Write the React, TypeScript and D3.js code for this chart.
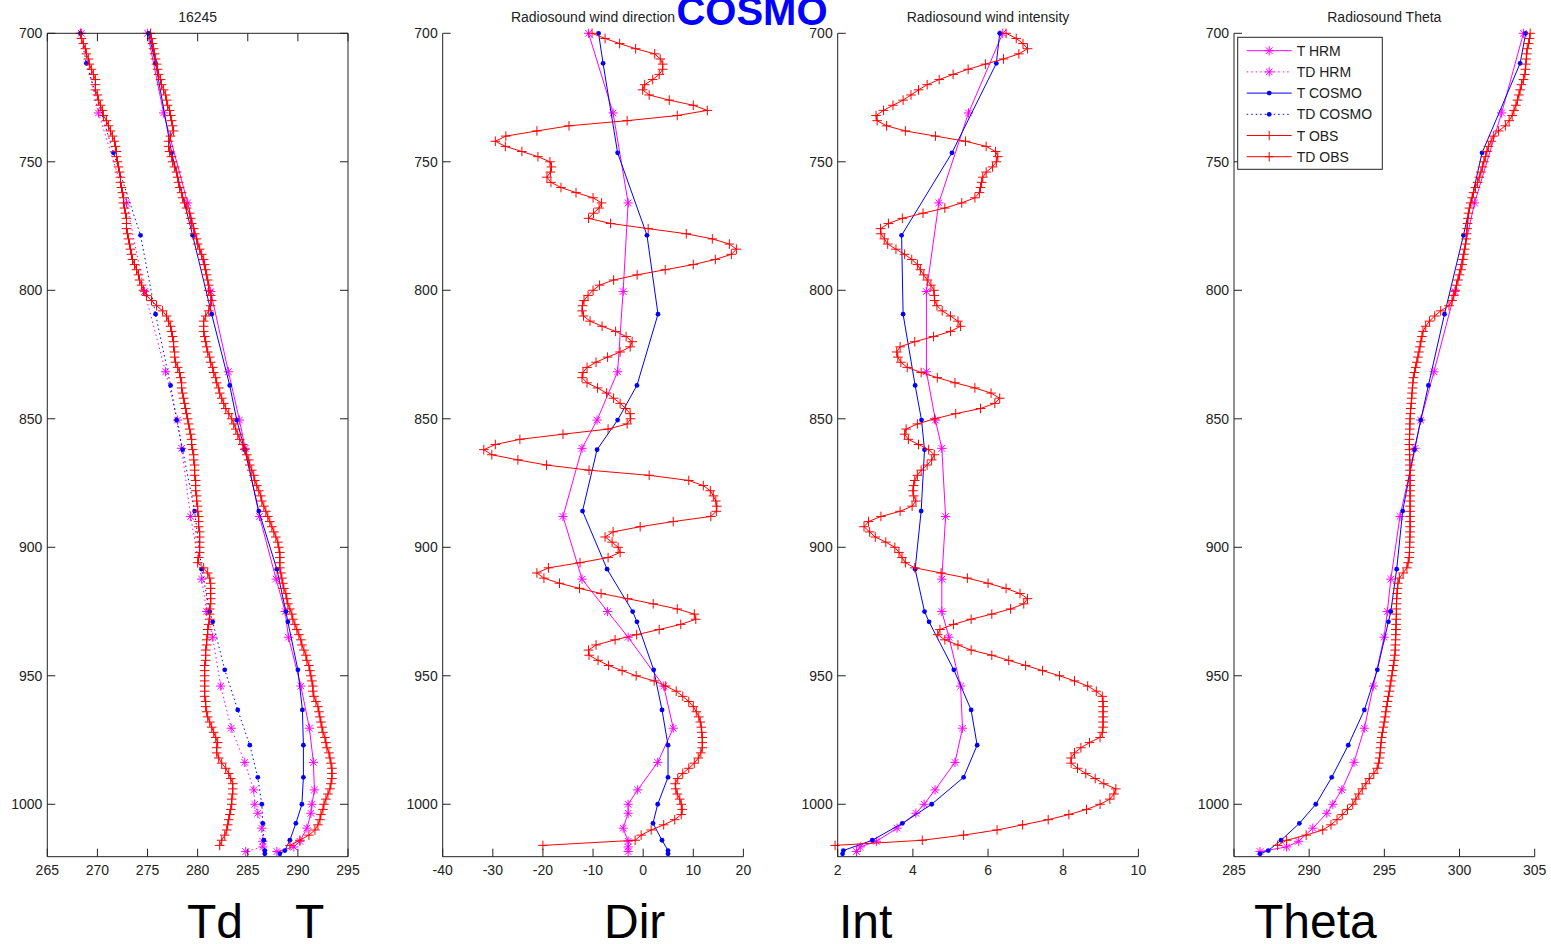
import React from 'react';
import * as d3 from 'd3';

// ---------- pressure levels ----------
const OBS_P = [
  700, 702, 704, 706, 708, 710, 712, 714, 716, 718,
  720, 722, 724, 726, 728, 730, 732, 734, 736, 738,
  740, 742, 744, 746, 748, 750, 752, 754, 756, 758,
  760, 762, 764, 766, 768, 770, 772, 774, 776, 778,
  780, 782, 784, 786, 788, 790, 792, 794, 796, 798,
  800, 802, 804, 806, 808, 810, 812, 814, 816, 818,
  820, 822, 824, 826, 828, 830, 832, 834, 836, 838,
  840, 842, 844, 846, 848, 850, 852, 854, 856, 858,
  860, 862, 864, 866, 868, 870, 872, 874, 876, 878,
  880, 882, 884, 886, 888, 890, 892, 894, 896, 898,
  900, 902, 904, 906, 908, 910, 912, 914, 916, 918,
  920, 922, 924, 926, 928, 930, 932, 934, 936, 938,
  940, 942, 944, 946, 948, 950, 952, 954, 956, 958,
  960, 962, 964, 966, 968, 970, 972, 974, 976, 978,
  980, 982, 984, 986, 988, 990, 992, 994, 996, 998,
  1000, 1002, 1004, 1006, 1008, 1010, 1012, 1014, 1016,
];

const HRM_P = [700, 731, 766, 800.5, 831.7, 850.5, 861.5, 888, 912.4, 925, 935, 954, 970.4, 983.7, 994.4, 1000, 1003.5, 1009.3, 1014.4, 1016.6, 1018.4];
const COSMO_P = [700, 711.7, 746.5, 778.6, 809.3, 837, 850.5, 862, 885.9, 908.5, 925, 929, 947.7, 963.3, 977, 989.5, 1000, 1007.4, 1014, 1018, 1019.3];

// ---------- observations ----------
const OBS_T = [
  275.3, 275.4, 275.5, 275.6, 275.7, 275.8, 275.9, 276.0, 276.1, 276.3,
  276.4, 276.6, 276.8, 276.9, 277.0, 277.2, 277.3, 277.4, 277.5, 277.6,
  277.3, 277.1, 277.1, 277.2, 277.4, 277.5, 277.7, 277.9, 278.0, 278.1,
  278.2, 278.4, 278.5, 278.7, 278.9, 279.2, 279.3, 279.4, 279.6, 279.7,
  279.9, 280.0, 280.2, 280.4, 280.6, 280.7, 280.8, 280.9, 281.0, 281.1,
  281.1, 281.3, 281.4, 281.3, 281.1, 280.8, 280.6, 280.6, 280.6, 280.7,
  280.8, 280.9, 281.0, 281.2, 281.3, 281.5, 281.6, 281.8, 281.9, 282.1,
  282.2, 282.4, 282.6, 282.8, 283.1, 283.4, 283.6, 283.8, 284.0, 284.2,
  284.5, 284.7, 284.9, 285.1, 285.2, 285.4, 285.6, 285.7, 285.9, 286.1,
  286.3, 286.4, 286.6, 286.8, 287.0, 287.2, 287.4, 287.6, 287.8, 288.0,
  288.1, 288.2, 288.2, 288.2, 288.2, 288.3, 288.4, 288.5, 288.6, 288.8,
  288.9, 289.0, 289.2, 289.4, 289.5, 289.7, 289.9, 290.1, 290.3, 290.4,
  290.6, 290.8, 290.9, 291.1, 291.2, 291.3, 291.4, 291.5, 291.5, 291.6,
  291.8, 292.0, 292.1, 292.2, 292.3, 292.4, 292.5, 292.7, 292.8, 292.9,
  293.1, 293.2, 293.3, 293.4, 293.4, 293.4, 293.3, 293.2, 293.0, 292.8,
  292.6, 292.5, 292.3, 292.2, 292.0, 291.7, 291.1, 290.2, 289.2,
];

const OBS_TD = [
  268.3, 268.4, 268.6, 268.8, 268.9, 269.1, 269.2, 269.4, 269.6, 269.8,
  269.8, 269.8, 270.0, 270.1, 270.3, 270.5, 270.6, 270.9, 271.1, 271.3,
  271.5, 271.7, 271.8, 271.9, 271.9, 272.0, 272.1, 272.2, 272.3, 272.3,
  272.4, 272.5, 272.6, 272.6, 272.7, 272.8, 272.9, 272.9, 272.9, 273.0,
  273.1, 273.2, 273.3, 273.4, 273.5, 273.7, 273.9, 274.1, 274.2, 274.4,
  274.6, 274.9, 275.4, 275.9, 276.5, 276.9, 277.1, 277.3, 277.4, 277.5,
  277.6, 277.6, 277.7, 277.7, 277.8, 278.0, 278.2, 278.3, 278.4, 278.4,
  278.5, 278.6, 278.7, 278.8, 278.9, 279.0, 279.1, 279.2, 279.3, 279.4,
  279.4, 279.5, 279.6, 279.6, 279.7, 279.7, 279.7, 279.8, 279.8, 279.8,
  279.9, 279.9, 280.0, 280.0, 280.1, 280.1, 280.1, 280.2, 280.2, 280.2,
  280.2, 280.2, 280.1, 280.0, 280.6, 281.0, 281.2, 281.3, 281.3, 281.3,
  281.3, 281.3, 281.2, 281.2, 281.2, 281.1, 281.0, 281.0, 280.9, 280.9,
  280.8, 280.8, 280.8, 280.7, 280.7, 280.7, 280.7, 280.7, 280.7, 280.7,
  280.8, 280.8, 280.9, 281.0, 281.2, 281.4, 281.6, 281.8, 282.0, 281.9,
  281.9, 282.1, 282.4, 282.8, 283.1, 283.3, 283.5, 283.5, 283.5, 283.4,
  283.4, 283.3, 283.2, 283.1, 283.0, 282.9, 282.7, 282.4, 282.2,
];

const OBS_DIR = [
  -10.2, -7.6, -4.7, -1.5, 2.3, 3.4, 3.9, 3.9, 3.2, 1.9,
  0.3, -0.1, 1.2, 5.2, 10.0, 12.8, 6.8, -3.2, -14.8, -21.2,
  -27.4, -29.5, -27.5, -24.2, -21.0, -18.6, -18.3, -18.5, -19.2, -18.4,
  -16.4, -13.4, -10.0, -8.3, -8.8, -9.9, -10.9, -6.5, 1.0, 8.6,
  13.8, 17.2, 18.6, 17.6, 14.4, 10.0, 4.4, -1.2, -5.9, -8.7,
  -10.0, -11.0, -11.8, -12.1, -12.2, -11.9, -10.6, -8.2, -5.5, -3.4,
  -2.2, -2.6, -4.6, -7.1, -9.4, -11.2, -12.0, -12.2, -11.2, -9.1,
  -7.3, -5.9, -4.6, -3.5, -2.6, -2.5, -3.2, -7.0, -16.0, -24.6,
  -29.5, -31.8, -30.2, -25.0, -19.3, -10.8, 1.2, 9.1, 12.0, 13.4,
  14.0, 14.5, 14.7, 14.6, 13.5, 6.0, -0.6, -6.0, -7.6, -6.2,
  -5.0, -4.6, -7.0, -12.6, -18.9, -21.2, -19.8, -16.7, -12.7, -8.4,
  -3.1, 2.0, 6.8, 10.2, 10.5, 7.5, 3.2, -1.3, -5.6, -9.4,
  -10.9, -10.8, -9.0, -6.9, -4.2, -1.4, 2.2, 4.5, 6.6, 7.9,
  9.1, 10.0, 10.6, 11.1, 11.4, 11.6, 11.7, 11.8, 11.8, 11.8,
  11.5, 11.0, 10.2, 9.1, 7.9, 6.9, 6.4, 6.5, 6.8, 7.3,
  7.6, 7.8, 7.6, 6.3, 4.1, 1.6, -0.4, -1.6, -20.0,
];

const OBS_INT = [
  6.48, 6.75, 6.93, 7.05, 6.82, 6.41, 5.93, 5.47, 5.07, 4.70,
  4.38, 4.15, 3.95, 3.74, 3.47, 3.22, 3.02, 3.05, 3.30, 3.80,
  4.60, 5.40, 5.95, 6.20, 6.26, 6.22, 6.12, 5.95, 5.86, 5.83,
  5.80, 5.77, 5.65, 5.30, 4.85, 4.27, 3.72, 3.35, 3.14, 3.15,
  3.24, 3.33, 3.55, 3.78, 3.97, 4.12, 4.20, 4.29, 4.38, 4.48,
  4.56, 4.57, 4.58, 4.64, 4.78, 5.00, 5.20, 5.27, 5.00, 4.55,
  4.05, 3.66, 3.57, 3.60, 3.68, 3.85, 4.22, 4.65, 5.12, 5.65,
  6.08, 6.31, 6.18, 5.80, 5.14, 4.58, 4.12, 3.82, 3.78, 3.88,
  4.15, 4.42, 4.57, 4.50, 4.38, 4.22, 4.12, 4.05, 4.02, 4.00,
  4.02, 4.08, 3.98, 3.66, 3.15, 2.82, 2.70, 2.85, 3.00, 3.28,
  3.52, 3.63, 3.71, 3.80, 4.05, 4.75, 5.45, 6.00, 6.48, 6.85,
  7.05, 6.95, 6.60, 6.10, 5.55, 5.08, 4.72, 4.66, 4.85, 5.20,
  5.55, 6.10, 6.55, 7.00, 7.45, 7.90, 8.30, 8.65, 8.88, 9.04,
  9.06, 9.06, 9.06, 9.06, 9.06, 9.06, 9.04, 8.98, 8.70, 8.47,
  8.30, 8.21, 8.21, 8.38, 8.60, 8.85, 9.08, 9.40, 9.35, 9.24,
  8.98, 8.62, 8.15, 7.60, 6.92, 6.24, 5.35, 4.25, 1.93,
];

const OBS_THETA = [
  304.7, 304.65, 304.6, 304.5, 304.47, 304.44, 304.41, 304.38, 304.35, 304.25,
  304.12, 304.03, 303.95, 303.85, 303.75, 303.62, 303.5, 303.3, 303.05, 302.6,
  302.25, 302.1, 301.92, 301.82, 301.72, 301.62, 301.52, 301.42, 301.31, 301.2,
  301.06, 300.93, 300.84, 300.75, 300.66, 300.59, 300.56, 300.53, 300.5, 300.47,
  300.44, 300.4, 300.35, 300.29, 300.23, 300.17, 300.1, 300.0, 299.9, 299.8,
  299.72, 299.62, 299.5, 299.3, 298.75, 298.35, 298.0, 297.75, 297.57, 297.5,
  297.43, 297.37, 297.3, 297.23, 297.16, 297.08, 297.0, 296.93, 296.9, 296.87,
  296.84, 296.82, 296.79, 296.76, 296.73, 296.71, 296.7, 296.69, 296.68, 296.67,
  296.66, 296.67, 296.68, 296.69, 296.7, 296.71, 296.71, 296.71, 296.71, 296.71,
  296.71, 296.71, 296.71, 296.71, 296.71, 296.71, 296.71, 296.71, 296.7, 296.69,
  296.68, 296.67, 296.65, 296.58, 296.5, 296.25, 296.0, 295.9, 295.87, 295.84,
  295.82, 295.81, 295.8, 295.8, 295.79, 295.78, 295.77, 295.76, 295.75, 295.73,
  295.72, 295.7, 295.65, 295.6, 295.55, 295.5, 295.44, 295.38, 295.33, 295.27,
  295.21, 295.16, 295.1, 295.05, 294.99, 294.93, 294.87, 294.82, 294.78, 294.75,
  294.72, 294.68, 294.62, 294.52, 294.3, 294.0, 293.77, 293.53, 293.3, 293.1,
  292.9, 292.55, 292.2, 291.85, 291.45, 290.9, 289.8, 288.5, 287.9,
];

// ---------- HRM model ----------
const HRM_T = [275.0, 276.6, 279.0, 281.3, 283.07, 284.17, 284.74, 286.17, 287.83, 288.73, 289.06, 290.3, 291.15, 291.55, 291.65, 291.4, 291.3, 290.9, 290.2, 289.6, 287.9];
const HRM_TD = [268.4, 270.1, 272.9, 274.7, 276.8, 278.0, 278.4, 279.3, 280.4, 280.9, 281.5, 282.3, 283.35, 284.7, 285.6, 285.7, 286.0, 286.4, 286.5, 286.5, 284.8];
const HRM_DIR = [-10.9, -6.0, -3.0, -4.0, -5.1, -9.2, -12.2, -16.0, -12.2, -7.1, -3.0, 4.1, 6.0, 2.9, -1.1, -3.0, -3.0, -4.0, -3.0, -3.0, -3.0];
const HRM_INT = [6.39, 5.48, 4.69, 4.36, 4.36, 4.6, 4.77, 4.87, 4.77, 4.77, 4.96, 5.27, 5.32, 5.12, 4.59, 4.30, 4.08, 3.58, 3.03, 2.6, 2.5];
const HRM_THETA = [304.25, 302.8, 301.0, 299.7, 298.3, 297.42, 297.04, 296.04, 295.43, 295.2, 294.98, 294.27, 293.67, 292.98, 292.17, 291.57, 291.17, 290.24, 289.3, 288.5, 286.73];

// ---------- COSMO model ----------
const COSMO_T = [275.1, 275.8, 277.4, 279.5, 281.4, 283.2, 283.9, 284.7, 286.1, 287.9, 288.8, 289.0, 290.0, 290.45, 290.55, 290.55, 290.4, 289.8, 289.2, 288.7, 288.2];
const COSMO_TD = [268.3, 268.9, 271.6, 274.3, 275.8, 277.3, 277.9, 278.5, 279.7, 280.4, 281.2, 281.5, 282.7, 284.0, 285.2, 286.0, 286.4, 286.5, 286.6, 286.7, 286.7];
const COSMO_DIR = [-8.9, -8.0, -5.1, 0.76, 2.96, -1.24, -5.1, -9.2, -12.1, -7.2, -2.1, -1.24, 2.1, 3.76, 4.96, 4.96, 2.9, 1.96, 3.76, 4.96, 4.96];
const COSMO_INT = [6.31, 6.22, 5.04, 3.70, 3.74, 4.06, 4.23, 4.31, 4.22, 4.06, 4.31, 4.43, 5.09, 5.55, 5.71, 5.35, 4.5, 3.72, 2.92, 2.15, 2.13];
const COSMO_THETA = [304.4, 304.03, 301.5, 300.26, 299.0, 297.93, 297.42, 297.0, 296.22, 295.82, 295.43, 295.27, 294.53, 293.67, 292.6, 291.5, 290.44, 289.35, 288.13, 287.28, 286.73];

// ---------- axes ----------
const Y_TICKS = [700, 750, 800, 850, 900, 950, 1000];
const T_TICKS = [265, 270, 275, 280, 285, 290, 295];
const DIR_TICKS = [-40, -30, -20, -10, 0, 10, 20];
const INT_TICKS = [2, 4, 6, 8, 10];
const THETA_TICKS = [285, 290, 295, 300, 305];

const LEGEND_LABELS = ['T HRM', 'TD HRM', 'T COSMO', 'TD COSMO', 'T OBS', 'TD OBS'];

// ---------- layout ----------
const W = 1551;
const H = 944;
const P_TOP = 700;
const P_BOTTOM = 1020.4;
const Y_TOP = 33.3;
const Y_BOTTOM = 856.7;
const PANEL_W = 300.7;
const TICK = 8;
const FONT = '"Liberation Sans", Arial, Helvetica, sans-serif';
const AXIS = '#222';

const MAGENTA = '#ff00ff';
const BLUE = '#0000ff';
const RED = '#ff0000';

const yScale = d3.scaleLinear().domain([P_TOP, P_BOTTOM]).range([Y_TOP, Y_BOTTOM]);

type Kind = 'plus' | 'star' | 'dot';
interface SeriesDef { p: number[]; v: number[]; color: string; dashed: boolean; kind: Kind; }

const hrm = (v: number[], dashed = false): SeriesDef => ({ p: HRM_P, v, color: MAGENTA, dashed, kind: 'star' });
const cosmo = (v: number[], dashed = false): SeriesDef => ({ p: COSMO_P, v, color: BLUE, dashed, kind: 'dot' });
const obs = (v: number[]): SeriesDef => ({ p: OBS_P, v, color: RED, dashed: false, kind: 'plus' });

const PANELS = [
  {
    left: 47.3, domain: [265, 295], ticks: T_TICKS, title: '16245', box: true,
    series: [hrm(HRM_T), hrm(HRM_TD, true), cosmo(COSMO_T), cosmo(COSMO_TD, true), obs(OBS_T), obs(OBS_TD)],
  },
  {
    left: 442.7, domain: [-40, 20], ticks: DIR_TICKS, title: 'Radiosound wind direction', box: false,
    series: [hrm(HRM_DIR), cosmo(COSMO_DIR), obs(OBS_DIR)],
  },
  {
    left: 837.7, domain: [2, 10], ticks: INT_TICKS, title: 'Radiosound wind intensity', box: false,
    series: [hrm(HRM_INT), cosmo(COSMO_INT), obs(OBS_INT)],
  },
  {
    left: 1234, domain: [285, 305], ticks: THETA_TICKS, title: 'Radiosound Theta', box: false,
    series: [hrm(HRM_THETA), cosmo(COSMO_THETA), obs(OBS_THETA)],
  },
];

function markerPath(kind: Kind, x: number, y: number): string {
  if (kind === 'plus') {
    const s = 4.8;
    return `M${x - s},${y}H${x + s}M${x},${y - s}V${y + s}`;
  }
  const s = 4.6;
  const d = 3.3;
  return `M${x - s},${y}H${x + s}M${x},${y - s}V${y + s}M${x - d},${y - d}L${x + d},${y + d}M${x - d},${y + d}L${x + d},${y - d}`;
}

function SeriesView({ s, xs }: { s: SeriesDef; xs: d3.ScaleLinear<number, number> }) {
  const n = Math.min(s.p.length, s.v.length);
  const pts: [number, number][] = [];
  for (let i = 0; i < n; i++) pts.push([xs(s.v[i]), yScale(s.p[i])]);
  const d = d3.line()(pts) || '';
  return (
    <g>
      <path d={d} fill="none" stroke={s.color} strokeWidth={1} strokeDasharray={s.dashed ? '1.5,3' : undefined} />
      {s.kind === 'dot'
        ? pts.map(([x, y], i) => <circle key={i} cx={x} cy={y} r={2.4} fill={s.color} />)
        : <path d={pts.map(([x, y]) => markerPath(s.kind, x, y)).join('')} fill="none" stroke={s.color} strokeWidth={1} />}
    </g>
  );
}

function Panel({ cfg }: { cfg: typeof PANELS[number] }) {
  const x0 = cfg.left;
  const x1 = cfg.left + PANEL_W;
  const xs = d3.scaleLinear().domain(cfg.domain).range([x0, x1]);
  return (
    <g>
      <text x={(x0 + x1) / 2} y={22} textAnchor="middle" fontSize={14} fontFamily={FONT} fill={AXIS}>{cfg.title}</text>
      {cfg.series.map((s, i) => <SeriesView key={i} s={s} xs={xs} />)}
      {/* axes */}
      <line x1={x0} x2={x0} y1={Y_TOP} y2={Y_BOTTOM} stroke={AXIS} strokeWidth={1} />
      <line x1={x0} x2={x1} y1={Y_BOTTOM} y2={Y_BOTTOM} stroke={AXIS} strokeWidth={1} />
      {cfg.box && <line x1={x0} x2={x1} y1={Y_TOP} y2={Y_TOP} stroke={AXIS} strokeWidth={1} />}
      {cfg.box && <line x1={x1} x2={x1} y1={Y_TOP} y2={Y_BOTTOM} stroke={AXIS} strokeWidth={1} />}
      {Y_TICKS.map((t) => {
        const y = yScale(t);
        return (
          <g key={t}>
            <line x1={x0} x2={x0 + TICK} y1={y} y2={y} stroke={AXIS} strokeWidth={1} />
            {cfg.box && <line x1={x1 - TICK} x2={x1} y1={y} y2={y} stroke={AXIS} strokeWidth={1} />}
            <text x={x0 - 5} y={y + 5} textAnchor="end" fontSize={14} fontFamily={FONT} fill={AXIS}>{t}</text>
          </g>
        );
      })}
      {cfg.ticks.map((t) => {
        const x = xs(t);
        return (
          <g key={t}>
            <line x1={x} x2={x} y1={Y_BOTTOM} y2={Y_BOTTOM - TICK} stroke={AXIS} strokeWidth={1} />
            {cfg.box && <line x1={x} x2={x} y1={Y_TOP} y2={Y_TOP + TICK} stroke={AXIS} strokeWidth={1} />}
            <text x={x} y={Y_BOTTOM + 18.5} textAnchor="middle" fontSize={14} fontFamily={FONT} fill={AXIS}>{t}</text>
          </g>
        );
      })}
    </g>
  );
}

function Legend() {
  const bx = 1237.7, by = 37.3, bw = 144.6, bh = 132;
  const styles: { color: string; dashed: boolean; kind: Kind }[] = [
    { color: MAGENTA, dashed: false, kind: 'star' },
    { color: MAGENTA, dashed: true, kind: 'star' },
    { color: BLUE, dashed: false, kind: 'dot' },
    { color: BLUE, dashed: true, kind: 'dot' },
    { color: RED, dashed: false, kind: 'plus' },
    { color: RED, dashed: false, kind: 'plus' },
  ];
  return (
    <g>
      <rect x={bx} y={by} width={bw} height={bh} fill="#fff" stroke={AXIS} strokeWidth={1} />
      {LEGEND_LABELS.map((lab, i) => {
        const y = by + 13.4 + i * 21.2;
        const st = styles[i];
        const lx0 = 1246.7, lx1 = 1291.7, mx = (lx0 + lx1) / 2;
        return (
          <g key={lab}>
            <line x1={lx0} x2={lx1} y1={y} y2={y} stroke={st.color} strokeWidth={1} strokeDasharray={st.dashed ? '1.5,3' : undefined} />
            {st.kind === 'dot'
              ? <circle cx={mx} cy={y} r={2.4} fill={st.color} />
              : <path d={markerPath(st.kind, mx, y)} stroke={st.color} strokeWidth={1} fill="none" />}
            <text x={1296.7} y={y + 5} fontSize={14} fontFamily={FONT} fill={AXIS}>{lab}</text>
          </g>
        );
      })}
    </g>
  );
}

const BOTTOM_LABELS = [
  { text: 'Td', x: 187 },
  { text: 'T', x: 295 },
  { text: 'Dir', x: 604 },
  { text: 'Int', x: 839 },
  { text: 'Theta', x: 1254 },
];

export default function App() {
  return (
    <svg width={W} height={H} style={{ position: 'absolute', left: 0, top: 0, background: '#fff' }}>
      <rect x={0} y={0} width={W} height={H} fill="#fff" />
      {PANELS.map((cfg, i) => <Panel key={i} cfg={cfg} />)}
      <Legend />
      <text x={752} y={25} textAnchor="middle" fontSize={40} fontWeight="bold" fontFamily={FONT} fill={BLUE}>COSMO</text>
      {BOTTOM_LABELS.map((b) => (
        <text key={b.text} x={b.x} y={938} fontSize={48} fontFamily={FONT} fill="#000">{b.text}</text>
      ))}
    </svg>
  );
}
